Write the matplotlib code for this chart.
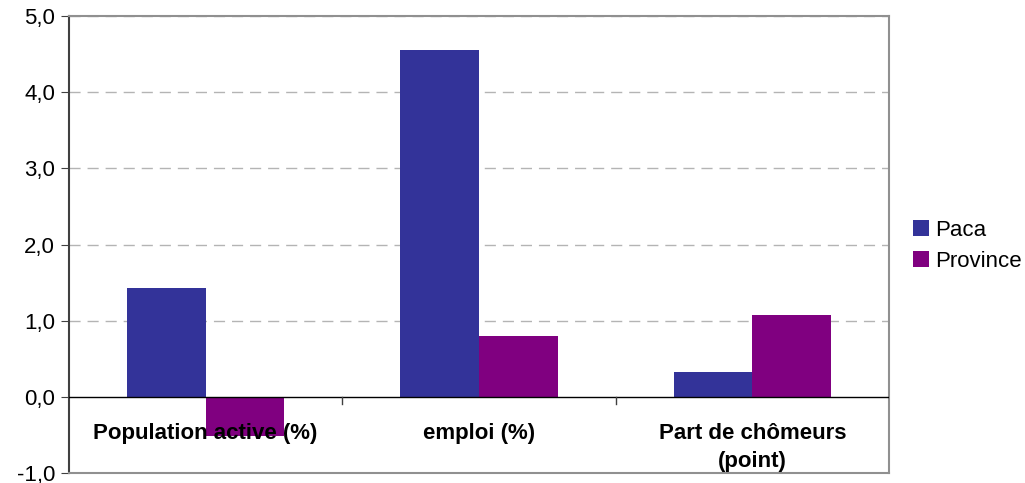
import matplotlib.pyplot as plt
import numpy as np

plt.rcParams['font.family'] = ['Liberation Sans', 'DejaVu Sans']

categories = ['Population active (%)', 'emploi (%)', 'Part de chômeurs\n(point)']
paca = [1.43, 4.56, 0.32]
province = [-0.51, 0.80, 1.07]
yticks = [-1, 0, 1, 2, 3, 4, 5]

fig = plt.figure(figsize=(10.25, 4.83), dpi=100)
ax = fig.add_axes([69 / 1025, 10 / 483, 820 / 1025, 457 / 483])

x = np.arange(len(categories))
w = 0.288
ax.bar(x - w / 2, paca, w, color='#333399', label='Paca', zorder=3)
ax.bar(x + w / 2, province, w, color='#800080', label='Province', zorder=3)

ax.set_xlim(-0.5, 2.5)
ax.set_ylim(-1, 5)
ax.set_yticks(yticks)
ax.set_yticklabels([f'{v:.1f}'.replace('.', ',') for v in yticks], fontsize=16)
ax.tick_params(axis='y', length=6, color='#404040', pad=4)

for v in yticks[2:]:
    ax.axhline(v, color='#b4b4b4', lw=1, ls=(0, (8, 5)), zorder=1)
ax.axhline(0, color='black', lw=1, zorder=4)

# category separators on the zero line
ax.set_xticks([])
for b in [0.5, 1.5]:
    ax.plot([b, b], [0, -0.09], color='#404040', lw=1, zorder=4, clip_on=False)

for i, c in enumerate(categories):
    ax.text(i, -0.34, c, ha='center', va='top', fontsize=16, fontweight='bold',
            linespacing=1.45, zorder=5)

for s in ['top', 'right', 'bottom']:
    ax.spines[s].set_color('#909090')
    ax.spines[s].set_linewidth(1.5)
ax.spines['left'].set_color('#404040')
ax.spines['left'].set_linewidth(1.5)

fig.legend(loc='center left', bbox_to_anchor=(913 / 1025, 1 - 246 / 483), frameon=False,
           fontsize=16, handlelength=0.7, handleheight=0.7, handletextpad=0.3,
           labelspacing=0.45, borderaxespad=0, borderpad=0)

fig.savefig('out.png', dpi=100)
